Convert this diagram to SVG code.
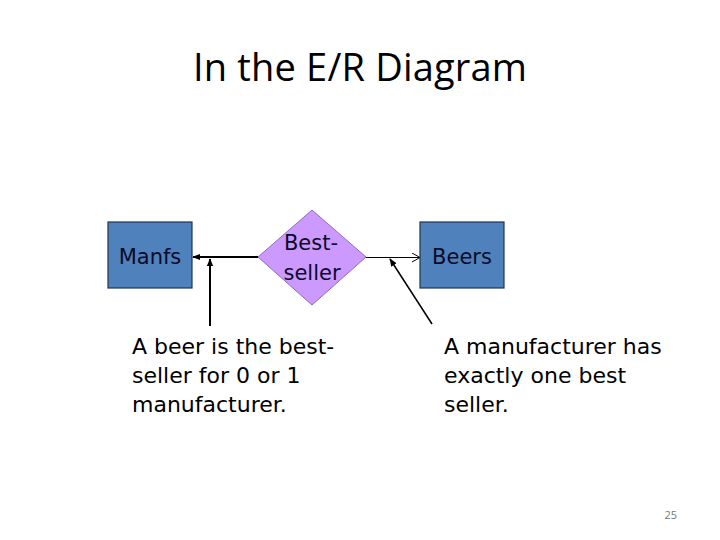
<svg xmlns="http://www.w3.org/2000/svg" width="720" height="540" viewBox="0 0 720 540">
<style>
.ent{fill:#4F81BD;stroke:#1F3553;stroke-width:1.2}
.rel{fill:#CC99FF;stroke:#8E6BBF;stroke-width:1}
.lbl{font-family:"DejaVu Sans",Verdana,sans-serif;font-size:21px;fill:#0A0A28;text-anchor:middle}
.note{font-family:"DejaVu Sans",Verdana,sans-serif;font-size:22px;fill:#000}
.ln{stroke:#000;fill:none}
</style>
<defs>
<marker id="fa" viewBox="0 0 10 10" refX="9" refY="5" markerWidth="8" markerHeight="8" markerUnits="userSpaceOnUse" orient="auto">
<path d="M0,1 L10,5 L0,9 Z" fill="#000"/>
</marker>
<marker id="oa" viewBox="0 0 10 10" refX="9" refY="5" markerWidth="10" markerHeight="10" markerUnits="userSpaceOnUse" orient="auto">
<path d="M1,0.5 L9,5 L1,9.5" fill="none" stroke="#000" stroke-width="1"/>
</marker>
</defs>
<rect width="720" height="540" fill="#fff"/>
<text x="360" y="81" font-family="'Open Sans','Noto Sans',sans-serif" font-size="38" text-anchor="middle" textLength="334" fill="#000">In the E/R Diagram</text>
<g id="connectors">
<line class="ln" x1="258" y1="257" x2="193" y2="257" stroke-width="2" marker-end="url(#fa)"/>
<line class="ln" x1="210" y1="326" x2="210" y2="259" stroke-width="2" marker-end="url(#fa)"/>
<line class="ln" x1="366" y1="257.5" x2="420" y2="257.5" stroke-width="1" marker-end="url(#oa)"/>
<line class="ln" x1="432" y1="324" x2="390" y2="259" stroke-width="1.5" marker-end="url(#fa)"/>
</g>
<g id="manfs">
<rect class="ent" x="108" y="222" width="84" height="66"/>
<text class="lbl" x="150" y="264">Manfs</text>
</g>
<g id="bestseller">
<polygon class="rel" points="312,210 366,257 312,305 258,257"/>
<text class="lbl" x="311" y="250">Best-</text>
<text class="lbl" x="312" y="280">seller</text>
</g>
<g id="beers">
<rect class="ent" x="420" y="222" width="84" height="66"/>
<text class="lbl" x="462" y="264">Beers</text>
</g>
<text class="note" x="132" y="354">A beer is the best-</text>
<text class="note" x="132" y="383">seller for 0 or 1</text>
<text class="note" x="132" y="412">manufacturer.</text>
<text class="note" x="444" y="354">A manufacturer has</text>
<text class="note" x="444" y="383">exactly one best</text>
<text class="note" x="444" y="412">seller.</text>
<text x="677" y="519" font-family="'Open Sans',sans-serif" font-size="11" fill="#777" text-anchor="end">25</text>
</svg>
